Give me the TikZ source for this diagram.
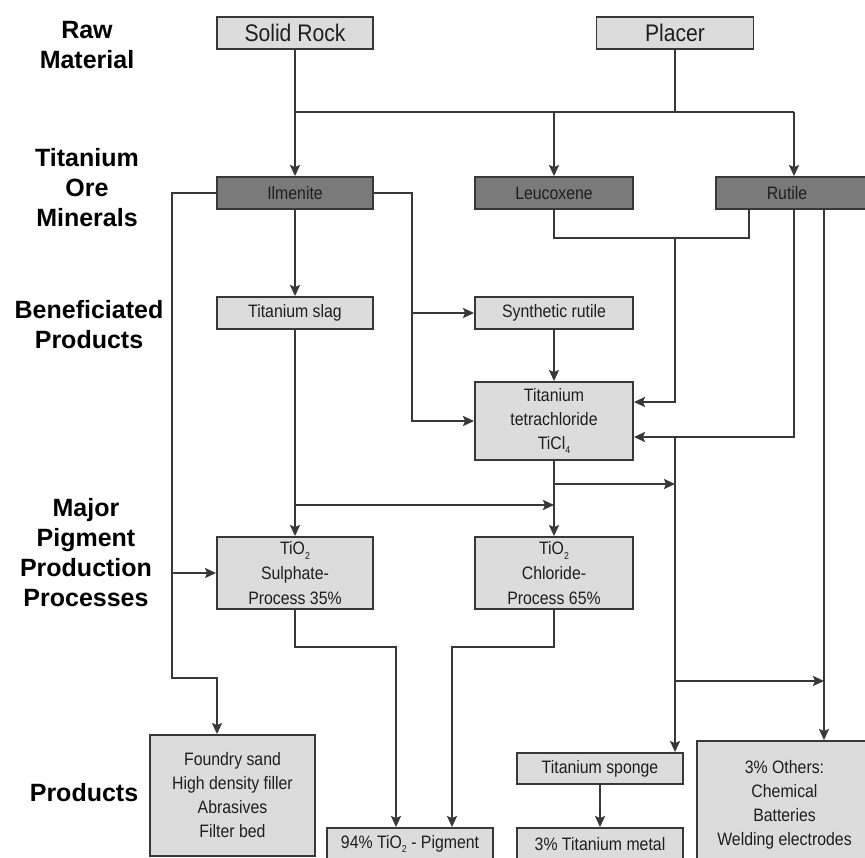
\documentclass[tikz,border=0pt]{standalone}
\usepackage{fontspec}
\setmainfont{Liberation Sans}
\newfontfamily\boxfont[FakeStretch=0.88]{Liberation Sans}
\usetikzlibrary{arrows.meta}
\definecolor{linec}{HTML}{383838}
\definecolor{lightf}{HTML}{DCDCDC}
\definecolor{darkf}{HTML}{7A7A7A}
\definecolor{txt}{HTML}{1E1E1E}
\newcommand\lowsub[1]{\raisebox{-0.5ex}{\fontsize{10bp}{10bp}\selectfont #1}}
\begin{document}
\begin{tikzpicture}[x=1bp,y=-1bp,
  box/.style={draw=linec, line width=1.9bp, fill=lightf, inner sep=0pt, minimum width=156bp, minimum height=32bp, text=txt, font=\boxfont\fontsize{18bp}{24bp}\selectfont, align=center},
  bigbox/.style={box, font=\boxfont\fontsize{24bp}{26bp}\selectfont},
  dbox/.style={box, fill=darkf},
  head/.style={font=\fontsize{25bp}{30bp}\selectfont\bfseries, align=center, text=black, inner sep=0pt},
  arr/.style={draw=linec, line width=1.9bp, -{Stealth[length=11bp,width=10bp,inset=2bp]}},
  ln/.style={draw=linec, line width=1.9bp}
]
\fill[white] (0,0) rectangle (865,858);
\useasboundingbox (0,0) rectangle (865,858);

% headings
\node[head] (h1) at (87,45) {Raw\\Material};
\node[head] (h2) at (87,188) {Titanium\\Ore\\Minerals};
\node[head] (h3) at (89,325) {Beneficiated\\Products};
\node[head] (h4) at (86,553) {Major\\Pigment\\Production\\Processes};
\node[head] (h5) at (84,793) {Products};

% boxes
\node[bigbox] (solid) at (295,33) {Solid Rock};
\node[bigbox, minimum width=157bp] (placer) at (675,33) {Placer};
\node[dbox] (ilm) at (295,193) {Ilmenite};
\node[dbox, minimum width=158bp] (leu) at (554,193) {Leucoxene};
\node[dbox, minimum width=152bp] (rut) at (792,193) {\hspace*{-10bp}Rutile};
\node[box] (slag) at (295,313) {Titanium slag};
\node[box, minimum width=158bp] (synth) at (554,313) {Synthetic rutile};
\node[box, minimum width=158bp, minimum height=78bp] (ticl) at (554,421) {Titanium\\tetrachloride\\TiCl\lowsub{4}};
\node[box, minimum height=72bp, font=\boxfont\fontsize{18bp}{25bp}\selectfont] (sulph) at (295,573) {TiO\lowsub{2}\\Sulphate-\\Process 35\%};
\node[box, minimum width=158bp, minimum height=72bp, font=\boxfont\fontsize{18bp}{25bp}\selectfont] (chlor) at (554,573) {TiO\lowsub{2}\\Chloride-\\Process 65\%};
\node[box, minimum width=165bp, minimum height=121bp] (foundry) at (232.5,795.5) {Foundry sand\\High density filler\\Abrasives\\Filter bed};
\node[box, minimum width=166bp] (pigment) at (410,844) {94\% TiO\lowsub{2} - Pigment};
\node[box, minimum width=166bp, minimum height=31bp] (sponge) at (600,768.5) {Titanium sponge};
\node[box, minimum width=166bp] (metal) at (600,844) {3\% Titanium metal};
\node[box, minimum width=175bp, minimum height=128bp] (others) at (784.5,805) {3\% Others:\\Chemical\\Batteries\\Welding electrodes};

% coordinates
\coordinate (jl) at (295,112);
\coordinate (jr) at (794,112);
\coordinate (L1) at (172,193);
\coordinate (L2) at (172,678);
\coordinate (L3) at (217,678);
\coordinate (L4) at (172,573);
\coordinate (I1) at (412,193);
\coordinate (I2) at (412,421);
\coordinate (I3) at (412,313);
\coordinate (M1) at (554,238);
\coordinate (M2) at (749,238);
\coordinate (M3) at (675,238);
\coordinate (M4) at (675,402);
\coordinate (R1) at (794,437);
\coordinate (R2) at (824,681);
\coordinate (V1) at (675,437);
\coordinate (V2) at (675,484);
\coordinate (V3) at (675,681);
\coordinate (S1) at (295,505);
\coordinate (P1) at (295,647);
\coordinate (P2) at (396,647);
\coordinate (P3) at (554,647);
\coordinate (P4) at (452,647);

% connectors
\draw[arr] (solid) -- (ilm);
\draw[ln] (placer) -- (placer |- jl);
\draw[ln] (jl) -- (jr);
\draw[arr] (leu |- jl) -- (leu);
\draw[arr] (jr) -- (jr |- rut.north);

\draw[arr] (ilm.west) -- (L1) -- (L2) -- (L3) -- (L3 |- foundry.north);
\draw[arr] (L4) -- (sulph.west);
\draw[arr] (ilm.east) -- (I1) -- (I2) -- (ticl.west);
\draw[arr] (I3) -- (synth.west);
\draw[arr] (ilm) -- (slag);

\draw[ln] (leu) -- (M1) -- (M2) -- (M2 |- rut.south);
\draw[arr] (M3) -- (M4) -- (M4 -| ticl.east);
\draw[arr] (R1 |- rut.south) -- (R1) -- (R1 -| ticl.east);
\draw[arr] (R2 |- rut.south) -- (R2 |- others.north);

\draw[arr] (synth) -- (ticl);
\draw[arr] (ticl) -- (chlor);
\draw[arr] (ticl.south |- V2) -- (V2);
\draw[arr] (V1) -- (V1 |- sponge.north);
\draw[arr] (V3) -- (R2);

\draw[arr] (slag) -- (sulph);
\draw[arr] (S1) -- (S1 -| chlor.north);

\draw[arr] (sulph) -- (P1) -- (P2) -- (P2 |- pigment.north);
\draw[arr] (chlor) -- (P3) -- (P4) -- (P4 |- pigment.north);
\draw[arr] (sponge) -- (metal);
\end{tikzpicture}
\end{document}
